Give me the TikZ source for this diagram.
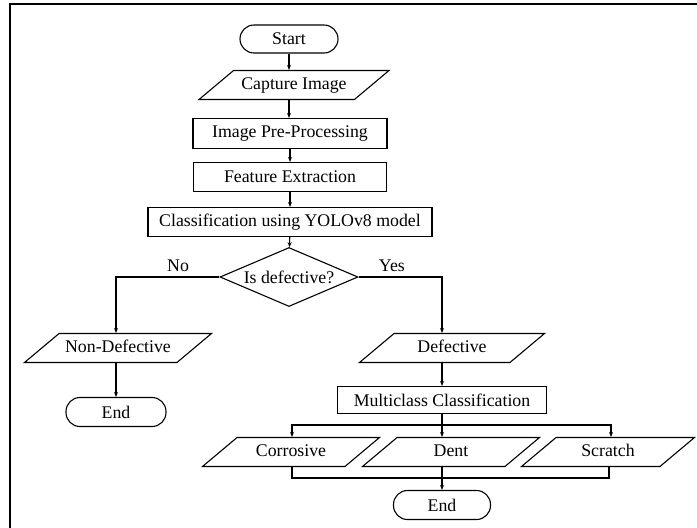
\documentclass[tikz,border=0pt]{standalone}
\usepackage{fontspec}
\setmainfont{Liberation Serif}
\usetikzlibrary{shapes.geometric,arrows.meta}

\begin{document}
\begin{tikzpicture}[x=1pt,y=-1pt,line width=1.1pt,
  font=\fontsize{17.8}{20}\selectfont,
  term/.style={draw,rectangle,rounded corners=14pt,minimum height=28pt,inner sep=0pt},
  io/.style={draw,trapezium,trapezium left angle=40,trapezium right angle=140,
    trapezium stretches body,text height=12pt,text depth=4pt,
    inner xsep=0pt,inner ysep=6.5pt},
  proc/.style={draw,rectangle,minimum height=29pt,inner sep=0pt},
  decide/.style={draw,diamond,aspect=2.34,minimum width=138pt,minimum height=59pt,inner sep=0pt},
  arr/.style={-{Stealth[length=5pt,width=4pt]}}]
  \useasboundingbox (0,0) rectangle (697,528);
  \draw[line width=1.4pt] (10,528) -- (10,4) -- (697,4);

  \node[term,minimum width=98pt] (start) at (289,39) {Start};
  \node[io,minimum width=190pt] (capture) at (294,85) {Capture Image};
  \node[proc,minimum width=194pt,minimum height=30pt] (prep) at (290,133.5) {Image Pre-Processing};
  \node[proc,minimum width=193pt] (feat) at (290,177) {Feature Extraction};
  \node[proc,minimum width=284pt] (yolo) at (290,222) {Classification using YOLOv8 model};
  \node[decide] (defq) at (289,277) {Is defective?};
  \node[io,minimum width=187pt] (nodef) at (118,348) {Non-Defective};
  \node[term,minimum width=100pt,minimum height=29pt] (endA) at (116,412) {End};
  \node[io,minimum width=185pt] (def) at (452,348) {Defective};
  \node[proc,minimum width=209pt,minimum height=27pt] (multi) at (442,400) {Multiclass Classification};
  \node[io,minimum width=177pt] (corr) at (291,452) {Corrosive};
  \node[io,minimum width=177pt] (dent) at (451,452) {Dent};
  \node[io,minimum width=173pt] (scr) at (608,452) {Scratch};
  \node[term,minimum width=97pt,minimum height=29pt] (endB) at (442,505) {End};

  \coordinate (split) at (442,425);
  \coordinate (join) at (442,478);

  \draw[arr] (start) -- (capture.north -| start);
  \draw[arr] (capture.south -| start) -- (prep.north -| start);
  \draw[arr] (prep) -- (feat);
  \draw[arr] (feat) -- (yolo);
  \draw[arr] (yolo) -- (defq);
  \draw[arr] (defq.west) -| node[pos=0.2,above=1pt] {No} (nodef.north -| endA);
  \draw[arr] (defq.east) -| node[pos=0.2,above=1pt] {Yes} (def.north -| 442,0);
  \draw[arr] (nodef.south -| endA) -- (endA);
  \draw[arr] (def.south -| 442,0) -- (multi);
  \draw (multi.south) -- (split);
  \draw[arr] (split) -| (corr.north -| 292,0);
  \draw[arr] (split) -- (dent.north -| 442,0);
  \draw[arr] (split) -| (scr.north -| 611,0);
  \draw (corr.south -| 292,0) |- (join);
  \draw (scr.south -| 609,0) |- (join);
  \draw[arr] (dent.south -| 442,0) -- (endB);
\end{tikzpicture}
\end{document}
